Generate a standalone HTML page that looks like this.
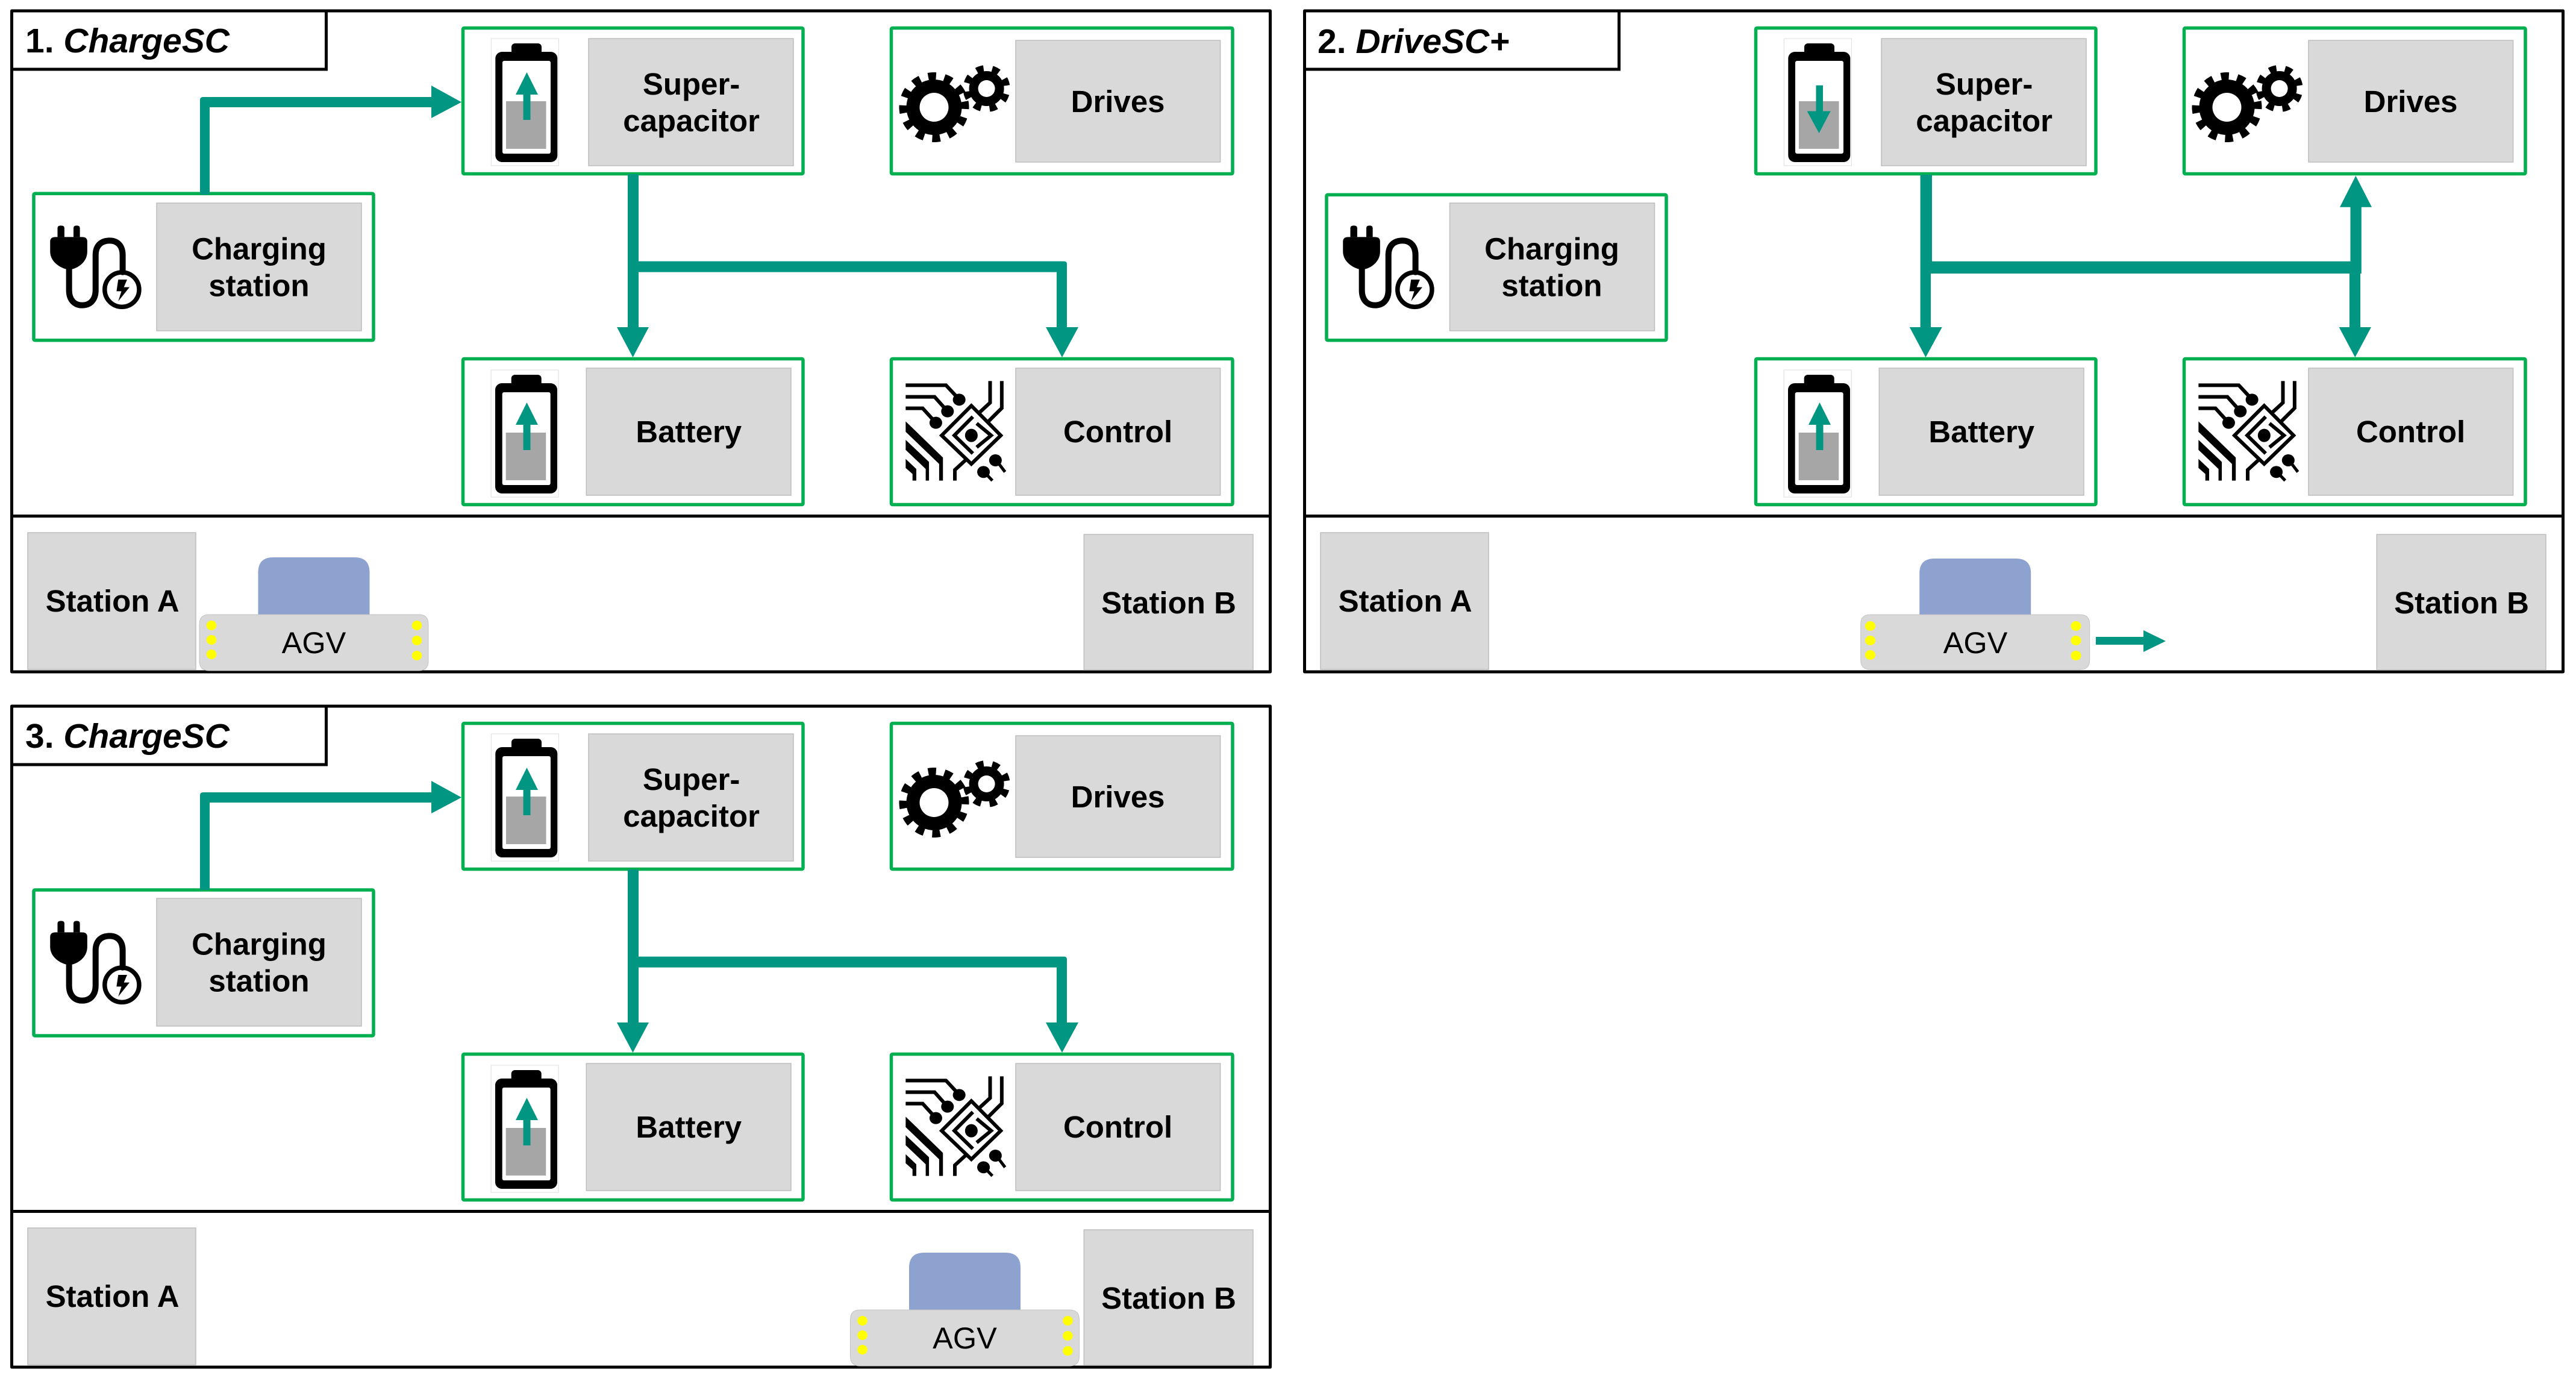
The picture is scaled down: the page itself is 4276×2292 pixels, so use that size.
<!DOCTYPE html>
<html>
<head>
<meta charset="utf-8">
<style>
html,body{margin:0;padding:0;background:#fff}
svg{display:block}
text{font-family:"Liberation Sans",Arial,sans-serif;fill:#000;text-anchor:middle}
.b{font-weight:700;font-size:51px}
.t{font-weight:700;font-size:57px;text-anchor:start}
.t tspan{font-style:italic}
.a{font-size:50.5px}
.g{fill:#d9d9d9;stroke:#bdbdbd;stroke-width:1.5}
.bx{fill:#fff;stroke:#00b050;stroke-width:5.5;stroke-linejoin:round}
.n{vector-effect:non-scaling-stroke;fill:none;stroke:#000}
</style>
</head>
<body>
<svg xmlns="http://www.w3.org/2000/svg" width="4276" height="2292" viewBox="0 0 4276 2292">
<defs>
  <g id="bat">
    <rect x="815.4" y="64" width="112" height="211" fill="#fff" stroke="#e2e2e2" stroke-width="1.2"/>
    <rect x="849" y="72" width="50" height="24" rx="6" fill="#000"/>
    <rect x="822.3" y="86" width="103" height="183" rx="11" fill="#000"/>
    <rect x="834" y="101" width="80" height="154" rx="3" fill="#fff"/>
    <rect x="840" y="168" width="66.5" height="79" fill="#a6a6a6"/>
  </g>
  <g id="up"><path d="M868.6 199V157H856L874.5 120L893 157H880.5V199Z" fill="#009681"/></g>
  <g id="gears">
    <circle cx="1550.5" cy="178" r="46" fill="#000"/>
    <circle cx="1550.5" cy="178" r="51" fill="none" stroke="#000" stroke-width="14" stroke-dasharray="13 13.7" stroke-dashoffset="6.5" transform="rotate(-4 1550.5 178)"/>
    <circle cx="1550.5" cy="178" r="24" fill="#fff"/>
    <circle cx="1637.6" cy="147" r="29" fill="#000"/>
    <circle cx="1637.6" cy="147" r="33.5" fill="none" stroke="#000" stroke-width="11" stroke-dasharray="12 14.3" stroke-dashoffset="6" transform="rotate(-19 1637.6 147)"/>
    <circle cx="1637.6" cy="147" r="14" fill="#fff"/>
  </g>
  <g id="circuit" transform="translate(1460 570) scale(.4209 .3333)">
    <path class="n" stroke-width="6" d="M103 208H262L315 280M103 266H217L268 338M103 323H170L222 395"/>
    <ellipse cx="314" cy="280" rx="25" ry="30"/><ellipse cx="268" cy="338" rx="25" ry="30"/><ellipse cx="222" cy="395" rx="25" ry="30"/>
    <path class="n" stroke-width="6" d="M436 187V295L393 345M482 187V322L428 390M297 683V630L340 580"/>
    <path class="n" stroke-width="6" d="M362 310L478 458L362 600L245 458Z"/>
    <path class="n" stroke-width="6" d="M368 365L295 458L368 548M383 398L440 458L383 517"/>
    <ellipse cx="362" cy="458" rx="25" ry="33"/>
    <path d="M103 388L250 568V683H235V600L103 440ZM103 480L195 590V683H182V625L103 530ZM103 575L145 625V683H130V650L103 620Z"/>
    <ellipse cx="457" cy="582" rx="25" ry="30"/><ellipse cx="410" cy="640" rx="25" ry="30"/>
    <path class="n" stroke-width="5" d="M465 590L495 640M420 650L445 683"/>
  </g>
  <g id="plug" transform="translate(20 310) scale(.408 .3333)">
    <path d="M185 250V205Q185 193 199 193Q213 193 213 205V250ZM250 250V205Q250 193 263 193Q276 193 276 205V250Z"/>
    <path d="M155 272Q155 250 177 250H285Q306 250 306 272V322C306 370 275 400 245 410H220C190 400 155 370 155 322Z"/>
    <path class="n" stroke-width="10" stroke-linecap="round" d="M232 405V515C232 565 255 590 285 590C320 590 340 560 340 515V340C340 290 365 268 397 268C430 268 450 295 450 340V425"/>
    <ellipse class="n" stroke-width="7.5" cx="447" cy="512" rx="70" ry="86"/>
    <path d="M432 462H468L455 500H478L432 570L445 520H425Z"/>
  </g>
  <g id="frame">
    <rect x="19.5" y="18" width="2089" height="1097" fill="#fff" stroke="#000" stroke-width="5" stroke-linejoin="round"/>
    <path d="M19.5 856.5H2108.5M541.5 18V115H19.5" fill="none" stroke="#000" stroke-width="5"/>
    <rect class="bx" x="768.5" y="46.5" width="564.5" height="242" rx="2"/>
    <rect class="bx" x="1479.5" y="46.5" width="566.5" height="242" rx="2"/>
    <rect class="bx" x="768.5" y="595.5" width="564.5" height="242" rx="2"/>
    <rect class="bx" x="1479.5" y="595.5" width="566.5" height="242" rx="2"/>
    <rect class="g" x="977" y="64" width="340" height="211"/>
    <rect class="g" x="1686" y="67" width="339.6" height="202"/>
    <rect class="g" x="973.3" y="611" width="339.7" height="211"/>
    <rect class="g" x="1686" y="611" width="339.6" height="211"/>
    <rect class="g" x="46" y="884" width="279" height="227"/>
    <rect class="g" x="1799.3" y="887" width="280.7" height="225"/>
    <use href="#bat"/>
    <use href="#bat" transform="translate(-.3 550)"/>
    <use href="#gears"/>
    <use href="#circuit"/>
  </g>
  <g id="charge" fill="#009681">
    <path d="M332 323V166Q332 161 337 161H716V142L766 169.5L716 196V178H348V323Z"/>
    <path d="M1042 289V543H1024L1050.5 593L1077 543H1060V451.6H1754V543H1736L1763 593L1790 543H1771V438Q1771 433.6 1766 433.6H1060V289Z"/>
  </g>
  <g id="agv">
    <path d="M97.5 95V25Q97.5 0 122.5 0H257.5Q282.5 0 282.5 25V95Z" fill="#8ea2d0"/>
    <path d="M16 95H364Q380 95 380 111V172Q380 188 364 188H16Q0 188 0 172V111Q0 95 16 95Z" fill="#d9d9d9" stroke="#c4c4c4" stroke-width="1"/>
  </g>
  <g id="dots" fill="#ffff00">
    <ellipse cx="20" cy="113" rx="8.3" ry="8"/><ellipse cx="20" cy="137" rx="8.3" ry="8"/><ellipse cx="20" cy="161" rx="8.3" ry="8"/>
    <ellipse cx="361" cy="113" rx="8.3" ry="8"/><ellipse cx="361" cy="138" rx="8.3" ry="8"/><ellipse cx="361" cy="163" rx="8.3" ry="8"/>
  </g>
</defs>

<!-- PANEL 1 -->
<g>
  <use href="#frame"/>
  <rect class="bx" x="56" y="321.3" width="564" height="243.5" rx="2"/>
  <rect class="g" x="260" y="337" width="340" height="212"/>
  <use href="#plug"/>
  <use href="#up"/>
  <use href="#up" transform="translate(0 548)"/>
  <use href="#charge"/>
  <text class="t" x="42" y="87">1. <tspan>ChargeSC</tspan></text>
  <text class="b" x="1147.6" y="157">Super-</text>
  <text class="b" x="1147.6" y="218">capacitor</text>
  <text class="b" x="1855.6" y="186">Drives</text>
  <text class="b" x="1143.3" y="734">Battery</text>
  <text class="b" x="1855.6" y="734">Control</text>
  <text class="b" x="430" y="430.7">Charging</text>
  <text class="b" x="430" y="491.7">station</text>
  <text class="b" x="186.6" y="1015">Station A</text>
  <text class="b" x="1940" y="1018">Station B</text>
  <use href="#agv" transform="translate(331 925)"/>
  <use href="#dots" transform="translate(331 925)"/>
  <text class="a" x="521" y="1084">AGV</text>
</g>

<!-- PANEL 2 -->
<g>
  <use href="#frame" transform="translate(2146 0)"/>
  <rect class="bx" x="2202" y="323.2" width="564" height="241.6" rx="2"/>
  <rect class="g" x="2406.5" y="337" width="340" height="212"/>
  <use href="#plug" transform="translate(2146 0)"/>
  <path d="M3014.5 141.6H3026V184.5H3038.6L3019.5 221L2999.6 184.5H3014.5Z" fill="#009681"/>
  <use href="#up" transform="translate(2146 548)"/>
  <g fill="#009681">
    <path d="M3187.6 290V543H3169.8L3196.5 593L3223.7 543H3205V454H3900V543H3882.7L3909.3 593L3936 543H3918V454H3919.8V343.7H3937L3910.4 291.7L3884 343.7H3901.5V433.7H3207V290Z"/>
    <path d="M3479 1057H3558V1046L3595 1064L3558 1082V1070H3479Z"/>
  </g>
  <text class="t" x="2187" y="88">2. <tspan>DriveSC+</tspan></text>
  <text class="b" x="3293.6" y="157">Super-</text>
  <text class="b" x="3293.6" y="218">capacitor</text>
  <text class="b" x="4001.6" y="186">Drives</text>
  <text class="b" x="3289.3" y="734">Battery</text>
  <text class="b" x="4001.6" y="734">Control</text>
  <text class="b" x="2576" y="430.7">Charging</text>
  <text class="b" x="2576" y="491.7">station</text>
  <text class="b" x="2332.6" y="1015">Station A</text>
  <text class="b" x="4086" y="1018">Station B</text>
  <use href="#agv" transform="translate(3088.7 927) scale(1 .98)"/>
  <g fill="#ffff00">
    <ellipse cx="3104.5" cy="1039" rx="8.6" ry="8"/><ellipse cx="3104.5" cy="1063" rx="8.6" ry="8"/><ellipse cx="3104.5" cy="1087" rx="8.6" ry="8"/>
    <ellipse cx="3446" cy="1039" rx="8.6" ry="8"/><ellipse cx="3446" cy="1063" rx="8.6" ry="8"/><ellipse cx="3446" cy="1088" rx="8.6" ry="8"/>
  </g>
  <text class="a" x="3279" y="1084">AGV</text>
</g>

<!-- PANEL 3 -->
<g>
  <use href="#frame" transform="translate(0 1154)"/>
  <rect class="bx" x="56" y="1477" width="564" height="242" rx="2"/>
  <rect class="g" x="260" y="1491" width="340" height="212"/>
  <use href="#plug" transform="translate(0 1154)"/>
  <use href="#up" transform="translate(0 1154)"/>
  <use href="#up" transform="translate(0 1702)"/>
  <use href="#charge" transform="translate(0 1154)"/>
  <text class="t" x="42" y="1241">3. <tspan>ChargeSC</tspan></text>
  <text class="b" x="1147.6" y="1311">Super-</text>
  <text class="b" x="1147.6" y="1372">capacitor</text>
  <text class="b" x="1855.6" y="1340">Drives</text>
  <text class="b" x="1143.3" y="1888">Battery</text>
  <text class="b" x="1855.6" y="1888">Control</text>
  <text class="b" x="430" y="1584.7">Charging</text>
  <text class="b" x="430" y="1645.7">station</text>
  <text class="b" x="186.6" y="2169">Station A</text>
  <text class="b" x="1940" y="2172">Station B</text>
  <use href="#agv" transform="translate(1411.5 2079)"/>
  <use href="#dots" transform="translate(1411.5 2079)"/>
  <text class="a" x="1601.5" y="2238">AGV</text>
</g>
</svg>
</body>
</html>
